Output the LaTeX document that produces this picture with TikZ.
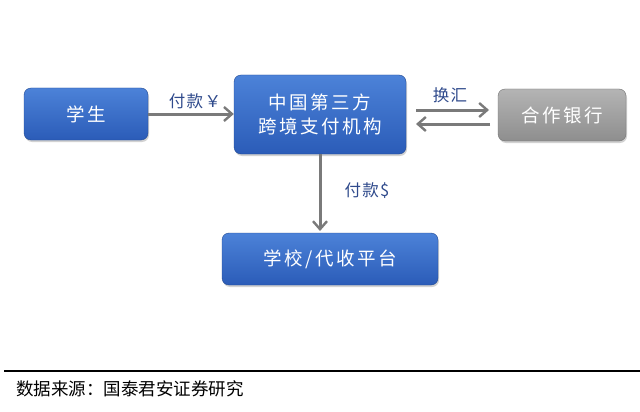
\documentclass[tikz,border=0pt]{standalone}
\usepackage{fontspec}
\newfontfamily\cjk{Noto Sans CJK SC}
\newfontfamily\cjksp[LetterSpace=14]{Noto Sans CJK SC}
\newfontfamily\cjklb[LetterSpace=8]{Noto Sans CJK SC}
\usetikzlibrary{shadows,arrows.meta}
\definecolor{bluetop}{HTML}{4C82D8}
\definecolor{bluebot}{HTML}{2B5CB8}
\definecolor{graytop}{HTML}{B4B4B4}
\definecolor{graybot}{HTML}{8E8E8E}
\definecolor{labelblue}{HTML}{2F4A8C}
\definecolor{arrowgray}{HTML}{7A7A7A}
\tikzset{
  bluebox/.style={rounded corners=7pt, top color=bluetop, bottom color=bluebot, draw=bluebot!80!black, line width=0.4pt,
    text=white, font=\cjksp\fontsize{18.5}{24}\selectfont, align=center, inner sep=0pt,
    drop shadow={shadow xshift=1pt, shadow yshift=-2pt, opacity=0.35}},
  graybox/.style={bluebox, top color=graytop, bottom color=graybot, draw=graybot!80!black},
  conn/.style={draw=arrowgray, line width=3pt, -{Straight Barb[length=8pt,width=14pt,line width=2.4pt]}},
  lbl/.style={text=labelblue, font=\cjklb\fontsize{16.5}{18}\selectfont, inner sep=1pt},
}
\begin{document}
\begin{tikzpicture}[x=1pt,y=-1pt]
\useasboundingbox (0,0) rectangle (640,412);
\fill[white] (0,0) rectangle (640,412);
\node[bluebox, minimum width=124pt, minimum height=52pt] (stu) at (86,114) {学生};
\node[bluebox, minimum width=172pt, minimum height=79pt] (mid) at (320,114.5) {中国第三方\\跨境支付机构};
\node[graybox, minimum width=128pt, minimum height=52pt] (bank) at (562,115) {合作银行};
\node[bluebox, minimum width=216pt, minimum height=52pt] (sch) at (330,259) {学校/代收平台};
\draw[conn] (stu.east) -- (mid.west |- stu.east);
\node[lbl] (l1) at (195,101) {付款￥};
\coordinate (t1) at (416,110);
\coordinate (t2) at (489,110);
\coordinate (b1) at (490,124);
\coordinate (b2) at (416,124);
\draw[conn] (t1) -- (t2);
\draw[conn] (b1) -- (b2);
\node[lbl] (l2) at (450,95) {换汇};
\draw[conn] (mid.south) -- (mid.south |- 0,231);
\node[lbl] (l3) at (367,191) {付款\$};
\coordinate (r1) at (4,371);
\coordinate (r2) at (640,371);
\draw[line width=1.2pt] (r1) -- (r2);
\node[anchor=west, font=\cjk\fontsize{17.5}{20}\selectfont, inner sep=0pt] (src) at (16,389) {数据来源：国泰君安证券研究};
\end{tikzpicture}
\end{document}
